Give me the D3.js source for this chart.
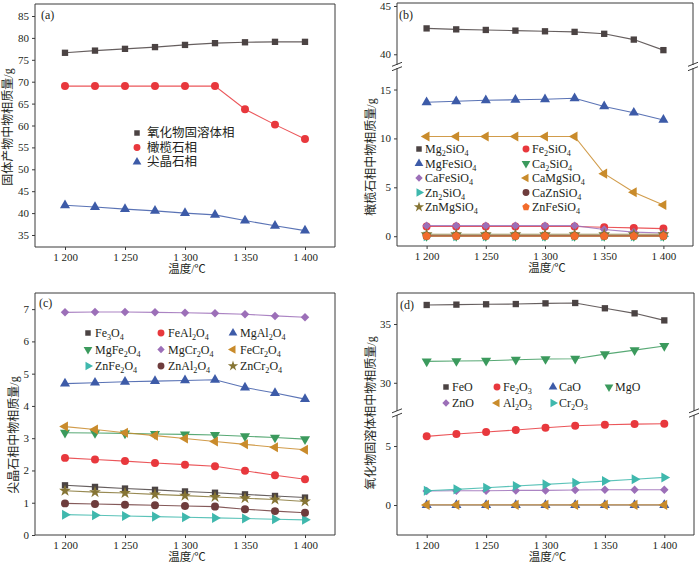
<!DOCTYPE html>
<html>
<head>
<meta charset="utf-8">
<script src="https://cdn.jsdelivr.net/npm/d3@7"></script>
<style>
  body { margin: 0; background: #fff; }
  text { font-family: "Liberation Serif", "Noto Sans CJK SC", serif; fill: #231f20; }
</style>
</head>
<body>
<div id="chart"></div>
<script>
(function () {

  // shared x values (temperature, ℃)
  var temps = [1200, 1225, 1250, 1275, 1300, 1325, 1350, 1375, 1400],
    xTicks = [1200, 1250, 1300, 1350, 1400],
    xTickLabels = ["1 200", "1 250", "1 300", "1 350", "1 400"];

  // (a) solid product phases
  var aOxide   = [76.6, 77.1, 77.5, 77.9, 78.4, 78.8, 79.0, 79.1, 79.1],
    aOlivine   = [69.0, 69.0, 69.0, 69.0, 69.0, 69.0, 63.7, 60.2, 56.9],
    aSpinel    = [41.8, 41.4, 40.9, 40.5, 40.0, 39.6, 38.3, 37.1, 36.0];

  // (b) olivine phase
  var bMg2SiO4 = [42.68, 42.58, 42.52, 42.45, 42.38, 42.32, 42.12, 41.52, 40.43],
    bFe2SiO4   = [1.0, 1.0, 1.0, 1.0, 1.0, 1.0, 0.92, 0.85, 0.78],
    bMgFeSiO4  = [13.7, 13.8, 13.9, 13.95, 14.0, 14.1, 13.27, 12.63, 11.89],
    bCa2SiO4   = [0.02, 0.02, 0.02, 0.02, 0.02, 0.02, 0.02, 0.02, 0.02],
    bCaFeSiO4  = [1.08, 1.08, 1.08, 1.08, 1.08, 1.08, 0.68, 0.42, 0.33],
    bCaMgSiO4  = [10.2, 10.2, 10.2, 10.2, 10.2, 10.2, 6.4, 4.5, 3.2],
    bZn2SiO4   = [0, 0, 0, 0, 0, 0, 0, 0, 0],
    bCaZnSiO4  = [0.05, 0.05, 0.05, 0.05, 0.05, 0.05, 0.05, 0.05, 0.05],
    bZnMgSiO4  = [0.2, 0.2, 0.2, 0.2, 0.2, 0.2, 0.2, 0.2, 0.2],
    bZnFeSiO4  = [0.01, 0.01, 0.01, 0.01, 0.01, 0.01, 0.01, 0.01, 0.01];

  // (c) spinel phase
  var cFe3O4 = [1.54, 1.49, 1.44, 1.40, 1.35, 1.31, 1.26, 1.21, 1.16],
    cFeAl2O4 = [2.39, 2.34, 2.29, 2.23, 2.18, 2.13, 1.99, 1.85, 1.73],
    cMgAl2O4 = [4.69, 4.72, 4.75, 4.77, 4.79, 4.81, 4.57, 4.40, 4.21],
    cMgFe2O4 = [3.17, 3.16, 3.15, 3.13, 3.12, 3.10, 3.06, 3.02, 2.97],
    cMgCr2O4 = [6.90, 6.91, 6.91, 6.90, 6.89, 6.87, 6.84, 6.79, 6.75],
    cFeCr2O4 = [3.36, 3.27, 3.17, 3.08, 2.99, 2.90, 2.81, 2.72, 2.64],
    cZnFe2O4 = [0.63, 0.61, 0.59, 0.57, 0.55, 0.53, 0.51, 0.49, 0.47],
    cZnAl2O4 = [0.98, 0.96, 0.94, 0.92, 0.90, 0.88, 0.80, 0.74, 0.69],
    cZnCr2O4 = [1.37, 1.33, 1.30, 1.26, 1.22, 1.18, 1.14, 1.10, 1.04];

  // (d) oxide solid solution phase
  var dFeO = [36.62, 36.65, 36.68, 36.70, 36.76, 36.79, 36.34, 35.91, 35.31],
    dFe2O3 = [5.82, 6.02, 6.19, 6.36, 6.55, 6.72, 6.81, 6.86, 6.89],
    dCaO   = [0, 0, 0, 0, 0, 0, 0, 0, 0],
    dMgO   = [31.82, 31.85, 31.88, 31.96, 32.02, 32.05, 32.44, 32.78, 33.13],
    dZnO   = [1.19, 1.21, 1.21, 1.24, 1.24, 1.27, 1.30, 1.30, 1.30],
    dAl2O3 = [0.01, 0.01, 0.01, 0.01, 0.01, 0.01, 0.01, 0.01, 0.01],
    dCr2O3 = [1.21, 1.33, 1.47, 1.61, 1.75, 1.89, 2.03, 2.18, 2.34];

  var w = 700,
    h = 565,
    axisColor = "#3a3a3a",
    tickFont = 11,
    colors = {
      gray: "#4b4343", red: "#e8383d", blue: "#3d5ba8", green: "#3b9a5d",
      purple: "#9c6fb8", orange: "#c98b2b", teal: "#3fb8ad", brown: "#6e3c3c",
      olive: "#867535", tomato: "#f26b2b"
    };

  // origin-like pentagon
  var symbolPentagon = {
    draw: function (ctx, size) {
      var r = Math.sqrt(size / 2.378);
      for (var i = 0; i < 5; i++) {
        var a = -Math.PI / 2 + i * 2 * Math.PI / 5;
        if (i === 0) ctx.moveTo(r * Math.cos(a), r * Math.sin(a));
        else ctx.lineTo(r * Math.cos(a), r * Math.sin(a));
      }
      ctx.closePath();
    }
  };

  var shapes = {
    square:   { type: d3.symbolSquare, rot: 0, size: 40 },
    circle:   { type: d3.symbolCircle, rot: 0, size: 50 },
    up:       { type: d3.symbolTriangle, rot: 0, size: 44 },
    down:     { type: d3.symbolTriangle, rot: 180, size: 44 },
    left:     { type: d3.symbolTriangle, rot: -90, size: 44 },
    right:    { type: d3.symbolTriangle, rot: 90, size: 44 },
    diamond:  { type: d3.symbolSquare, rot: 45, size: 36 },
    star:     { type: d3.symbolStar, rot: 0, size: 44 },
    pentagon: { type: symbolPentagon, rot: 0, size: 48 }
  };

  var svg = d3.select("#chart")
    .append("svg")
    .attr("width", w)
    .attr("height", h);

  svg.append("rect").attr("width", w).attr("height", h).attr("fill", "#fff");

  // writes "Mg_2SiO_4" with real subscripts
  function richText(sel, str, size) {
    var parts = str.split(/_(\d)/);
    var shifted = false;
    parts.forEach(function (p, i) {
      if (p === "") return;
      var t = sel.append("tspan").text(p);
      if (i % 2 === 1) {
        t.attr("font-size", size * 0.68).attr("dy", 3);
        shifted = true;
      } else if (shifted) {
        t.attr("dy", -3);
        shifted = false;
      }
    });
  }

  function marker(g, shape, color, x, y) {
    var s = shapes[shape];
    g.append("path")
      .attr("d", d3.symbol().type(s.type).size(s.size)())
      .attr("transform", "translate(" + x + "," + y + ") rotate(" + s.rot + ")")
      .attr("fill", color);
  }

  function drawPanel(cfg) {
    var g = svg.append("g");
    var x = d3.scaleLinear().domain([1175, 1425]).range([cfg.left, cfg.right]);
    var segs = cfg.segs.map(function (s) {
      return { scale: d3.scaleLinear().domain(s.domain).range(s.range), ticks: s.ticks, s: s };
    });

    function yOf(v) {
      for (var i = 0; i < segs.length; i++) {
        var dm = segs[i].s.domain;
        if (v >= dm[0] && v <= dm[1]) return segs[i].scale(v);
      }
      return segs[0].scale(v);
    }

    // y axes, one per segment
    segs.forEach(function (sg) {
      var ax = g.append("g")
        .attr("transform", "translate(" + cfg.left + ",0)")
        .call(d3.axisLeft(sg.scale).tickValues(sg.ticks).tickSize(3).tickPadding(3)
          .tickFormat(d3.format("d")));
      ax.select(".domain").remove();
      ax.selectAll("line").attr("stroke", axisColor);
      ax.selectAll("text").attr("font-size", tickFont).attr("fill", "#231f20")
        .style("font-family", "'Liberation Serif', serif");
    });

    // x axis
    var xa = g.append("g")
      .attr("transform", "translate(0," + cfg.bottom + ")")
      .call(d3.axisBottom(x).tickValues(xTicks).tickSize(3).tickPadding(3)
        .tickFormat(function (d, i) { return xTickLabels[i]; }));
    xa.select(".domain").remove();
    xa.selectAll("line").attr("stroke", axisColor);
    xa.selectAll("text").attr("font-size", tickFont).attr("fill", "#231f20")
      .style("font-family", "'Liberation Serif', serif");

    // frame, split where the axis is broken
    var frame = g.append("g").attr("stroke", axisColor).attr("stroke-width", 1).attr("fill", "none");
    frame.append("line").attr("x1", cfg.left).attr("x2", cfg.right).attr("y1", cfg.top).attr("y2", cfg.top);
    frame.append("line").attr("x1", cfg.left).attr("x2", cfg.right).attr("y1", cfg.bottom).attr("y2", cfg.bottom);
    segs.forEach(function (sg) {
      var r = sg.s.range;
      [cfg.left, cfg.right].forEach(function (xx) {
        frame.append("line").attr("x1", xx).attr("x2", xx).attr("y1", r[0]).attr("y2", r[1]);
      });
    });
    if (segs.length > 1) {
      var yb = (segs[0].s.range[1] + segs[1].s.range[0]) / 2;
      [cfg.left, cfg.right].forEach(function (xx) {
        [-2.2, 2.2].forEach(function (off) {
          frame.append("line")
            .attr("x1", xx - 5).attr("y1", yb + off + 2)
            .attr("x2", xx + 5).attr("y2", yb + off - 2);
        });
      });
    }

    // series
    var line = d3.line()
      .x(function (d, i) { return x(temps[i]); })
      .y(function (d) { return yOf(d); });

    cfg.series.forEach(function (sr) {
      var sg = g.append("g");
      sg.append("path")
        .attr("d", line(sr.values))
        .attr("fill", "none")
        .attr("stroke", sr.color)
        .attr("stroke-opacity", 0.85)
        .attr("stroke-width", 1.1);
      sr.values.forEach(function (v, i) {
        marker(sg, sr.shape, sr.color, x(temps[i]), yOf(v));
      });
    });

    // legend
    var lg = g.append("g");
    cfg.series.forEach(function (sr, i) {
      var col = i % cfg.legend.cols.length,
        row = Math.floor(i / cfg.legend.cols.length),
        lx = cfg.legend.cols[col],
        ly = cfg.legend.rows[row];
      var s = shapes[sr.shape];
      lg.append("path")
        .attr("d", d3.symbol().type(s.type).size(s.size * 0.75)())
        .attr("transform", "translate(" + lx + "," + ly + ") rotate(" + s.rot + ")")
        .attr("fill", sr.color);
      var t = lg.append("text")
        .attr("x", lx + cfg.legend.gap)
        .attr("y", ly + 4)
        .attr("font-size", cfg.legend.size);
      richText(t, sr.name, cfg.legend.size);
    });

    // panel tag and titles
    g.append("text").attr("x", cfg.tag[0]).attr("y", cfg.tag[1]).attr("font-size", 12).text(cfg.tagText);
    g.append("text")
      .attr("x", (cfg.left + cfg.right) / 2 + 2)
      .attr("y", cfg.bottom + 26)
      .attr("text-anchor", "middle")
      .attr("font-size", 11.5)
      .text("温度/℃");
    g.append("text")
      .attr("transform", "translate(" + cfg.yTitle[0] + "," + cfg.yTitle[1] + ") rotate(-90)")
      .attr("text-anchor", "middle")
      .attr("dy", "0.35em")
      .attr("font-size", 12)
      .text(cfg.yTitleText);
  }

  drawPanel({
    left: 35, right: 335, top: 4, bottom: 247,
    segs: [{ domain: [32.26, 87.74], range: [247, 4], ticks: d3.range(35, 86, 5) }],
    series: [
      { name: "氧化物固溶体相", values: aOxide, shape: "square", color: colors.gray },
      { name: "橄榄石相", values: aOlivine, shape: "circle", color: colors.red },
      { name: "尖晶石相", values: aSpinel, shape: "up", color: colors.blue }
    ],
    legend: { cols: [137], rows: [133, 147.5, 162], gap: 10, size: 12.5 },
    tag: [41, 19], tagText: "(a)",
    yTitle: [8, 127], yTitleText: "固体产物中物相质量/g"
  });

  drawPanel({
    left: 397, right: 693, top: 3, bottom: 246,
    segs: [
      { domain: [-1, 17.2], range: [246, 68], ticks: [0, 5, 10, 15] },
      { domain: [38.89, 45.31], range: [65, 3], ticks: [40, 45] }
    ],
    series: [
      { name: "Mg_2SiO_4", values: bMg2SiO4, shape: "square", color: colors.gray },
      { name: "Fe_2SiO_4", values: bFe2SiO4, shape: "circle", color: colors.red },
      { name: "MgFeSiO_4", values: bMgFeSiO4, shape: "up", color: colors.blue },
      { name: "Ca_2SiO_4", values: bCa2SiO4, shape: "down", color: colors.green },
      { name: "CaFeSiO_4", values: bCaFeSiO4, shape: "diamond", color: colors.purple },
      { name: "CaMgSiO_4", values: bCaMgSiO4, shape: "left", color: colors.orange },
      { name: "Zn_2SiO_4", values: bZn2SiO4, shape: "right", color: colors.teal },
      { name: "CaZnSiO_4", values: bCaZnSiO4, shape: "circle", color: colors.brown },
      { name: "ZnMgSiO_4", values: bZnMgSiO4, shape: "star", color: colors.olive },
      { name: "ZnFeSiO_4", values: bZnFeSiO4, shape: "pentagon", color: colors.tomato }
    ],
    legend: { cols: [419, 526], rows: [149, 163.5, 178, 192.5, 207], gap: 6, size: 12 },
    tag: [399, 19], tagText: "(b)",
    yTitle: [371, 157], yTitleText: "橄榄石相中物相质量/g"
  });

  drawPanel({
    left: 35, right: 335, top: 293, bottom: 535,
    segs: [{ domain: [0, 7.5], range: [535, 293], ticks: d3.range(0, 8, 1) }],
    series: [
      { name: "Fe_3O_4", values: cFe3O4, shape: "square", color: colors.gray },
      { name: "FeAl_2O_4", values: cFeAl2O4, shape: "circle", color: colors.red },
      { name: "MgAl_2O_4", values: cMgAl2O4, shape: "up", color: colors.blue },
      { name: "MgFe_2O_4", values: cMgFe2O4, shape: "down", color: colors.green },
      { name: "MgCr_2O_4", values: cMgCr2O4, shape: "diamond", color: colors.purple },
      { name: "FeCr_2O_4", values: cFeCr2O4, shape: "left", color: colors.orange },
      { name: "ZnFe_2O_4", values: cZnFe2O4, shape: "right", color: colors.teal },
      { name: "ZnAl_2O_4", values: cZnAl2O4, shape: "circle", color: colors.brown },
      { name: "ZnCr_2O_4", values: cZnCr2O4, shape: "star", color: colors.olive }
    ],
    legend: { cols: [88, 161, 233], rows: [333, 349.5, 366], gap: 7, size: 12 },
    tag: [39, 307], tagText: "(c)",
    yTitle: [14, 435], yTitleText: "尖晶石相中物相质量/g"
  });

  drawPanel({
    left: 397, right: 694, top: 293, bottom: 535,
    segs: [
      { domain: [-2.54, 7.63], range: [535, 415], ticks: [0, 5] },
      { domain: [27.6, 37.64], range: [411, 293], ticks: [30, 35] }
    ],
    series: [
      { name: "FeO", values: dFeO, shape: "square", color: colors.gray },
      { name: "Fe_2O_3", values: dFe2O3, shape: "circle", color: colors.red },
      { name: "CaO", values: dCaO, shape: "up", color: colors.blue },
      { name: "MgO", values: dMgO, shape: "down", color: colors.green },
      { name: "ZnO", values: dZnO, shape: "diamond", color: colors.purple },
      { name: "Al_2O_3", values: dAl2O3, shape: "left", color: colors.orange },
      { name: "Cr_2O_3", values: dCr2O3, shape: "right", color: colors.teal }
    ],
    legend: { cols: [446, 497, 553, 609], rows: [387, 403], gap: 6, size: 12 },
    tag: [400, 309], tagText: "(d)",
    yTitle: [371, 413], yTitleText: "氧化物固溶体相中物相质量/g"
  });

})();
</script>
</body>
</html>
